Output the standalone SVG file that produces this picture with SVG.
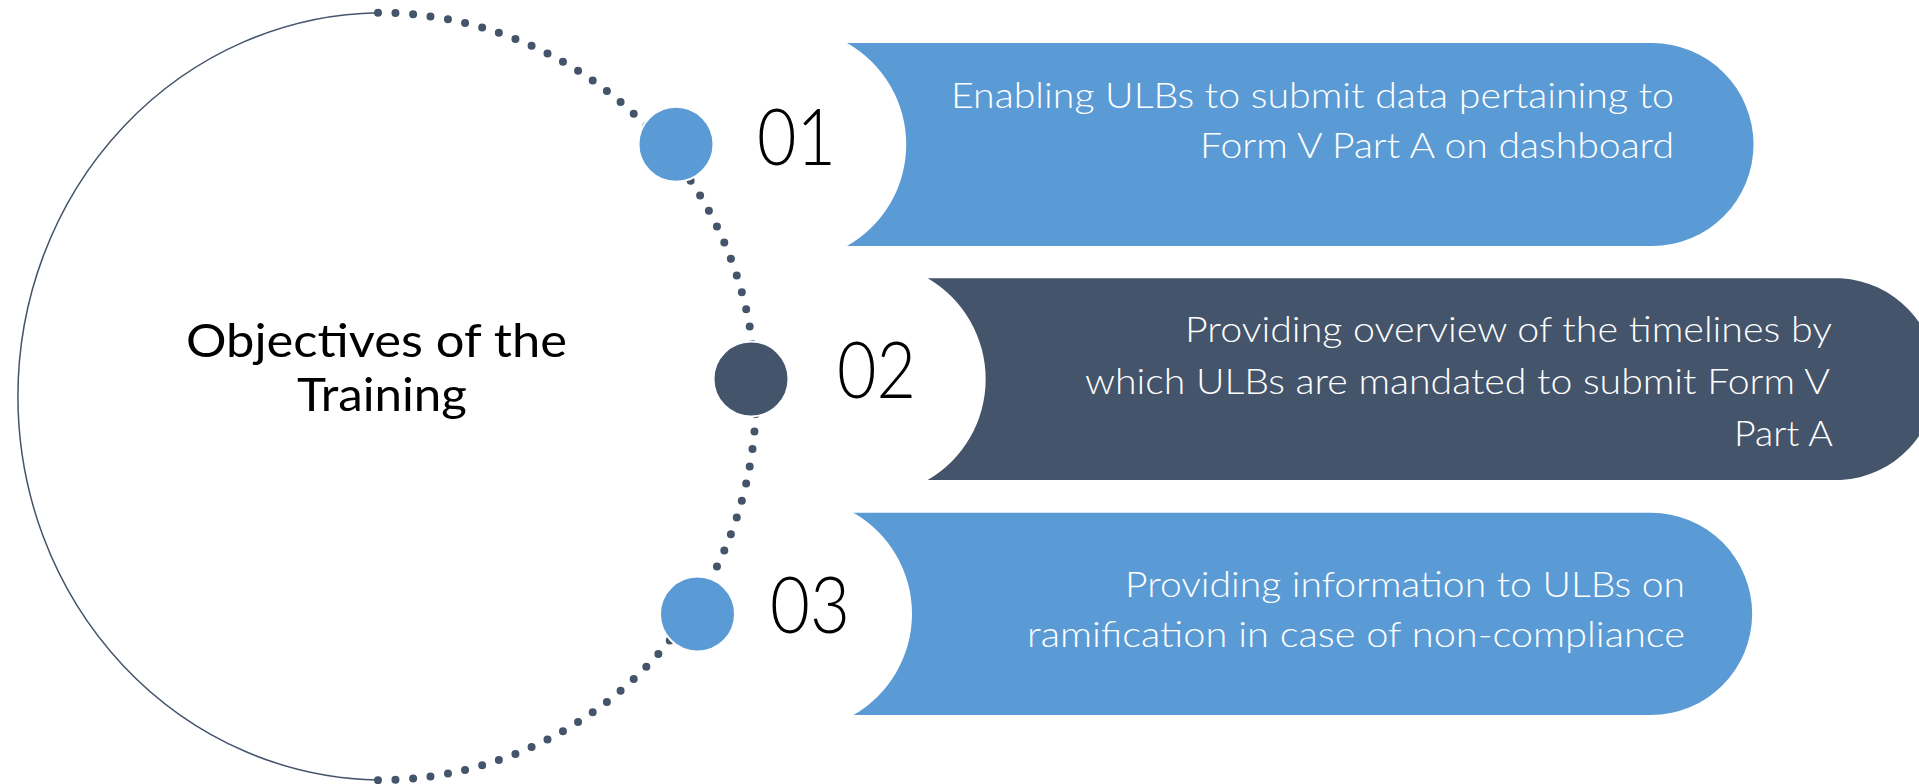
<svg xmlns="http://www.w3.org/2000/svg" width="1919" height="784" viewBox="0 0 1919 784">
  <style>
    .blue { fill: #5B9BD5; }
    .dark { fill: #44546A; }
    .dot { fill: none; stroke: #44546A; stroke-width: 8; stroke-linecap: round; }
    .solid { fill: none; stroke: #44546A; stroke-width: 1.5; }
    .bullet { stroke: #FFFFFF; stroke-width: 2; }
    .num { font-family: Lato, "Open Sans", "Liberation Sans", sans-serif; font-weight: 300; font-size: 78px; fill: #000000; }
    .title { font-family: Lato, "Open Sans", "Liberation Sans", sans-serif; font-weight: 400; font-size: 47px; fill: #000000; }
    .body { font-family: Lato, "Open Sans", "Liberation Sans", sans-serif; font-weight: 300; font-size: 36px; fill: #FFFFFF; }
  </style>
  <rect x="0" y="0" width="1919" height="784" fill="#FFFFFF"/>

  <g id="connectors">
    <path class="solid" d="M378,12.7 A366,383.7 0 0 0 378,780"/>
    <path class="dot" pathLength="680" stroke-dasharray="0 10" d="M378,12.7 A378,383.7 0 0 1 378,780.2"/>
  </g>

  <g id="node-title">
    <text class="title" x="186" y="357" textLength="381" lengthAdjust="spacingAndGlyphs">Objectives of the</text>
    <text class="title" x="297" y="411" textLength="170" lengthAdjust="spacingAndGlyphs">Training</text>
  </g>

  <g id="node-01">
    <path class="blue" d="M847,43 L1652,43 A101.5,101.5 0 0 1 1652,246 L847,246 A116.6,116.6 0 0 0 847,43 Z"/>
    <circle class="blue bullet" cx="676" cy="144.3" r="37.5"/>
    <text class="num" x="757" y="165" textLength="79" lengthAdjust="spacingAndGlyphs">01</text>
    <text class="body" x="951" y="108" textLength="723" lengthAdjust="spacingAndGlyphs">Enabling ULBs to submit data pertaining to</text>
    <text class="body" x="1200" y="158" textLength="474" lengthAdjust="spacingAndGlyphs">Form V Part A on dashboard</text>
  </g>

  <g id="node-02">
    <path class="dark" d="M927.7,278.3 L1841,278.3 A101,101 0 0 1 1841,480 L927.7,480 A116.7,116.7 0 0 0 927.7,278.3 Z"/>
    <circle class="dark bullet" cx="751" cy="379" r="37.5"/>
    <text class="num" x="837" y="398" textLength="79" lengthAdjust="spacingAndGlyphs">02</text>
    <text class="body" x="1185" y="342" textLength="647" lengthAdjust="spacingAndGlyphs">Providing overview of the timelines by</text>
    <text class="body" x="1085" y="394" textLength="745" lengthAdjust="spacingAndGlyphs">which ULBs are mandated to submit Form V</text>
    <text class="body" x="1734" y="446" textLength="99" lengthAdjust="spacingAndGlyphs">Part A</text>
  </g>

  <g id="node-03">
    <path class="blue" d="M853.5,512.7 L1651,512.7 A101.15,101.15 0 0 1 1651,715 L853.5,715 A116.7,116.7 0 0 0 853.5,512.7 Z"/>
    <circle class="blue bullet" cx="697.5" cy="614" r="37.5"/>
    <text class="num" x="770" y="633" textLength="80" lengthAdjust="spacingAndGlyphs">03</text>
    <text class="body" x="1125" y="597" textLength="560" lengthAdjust="spacingAndGlyphs">Providing information to ULBs on</text>
    <text class="body" x="1027" y="647" textLength="658" lengthAdjust="spacingAndGlyphs">ramification in case of non-compliance</text>
  </g>
</svg>
